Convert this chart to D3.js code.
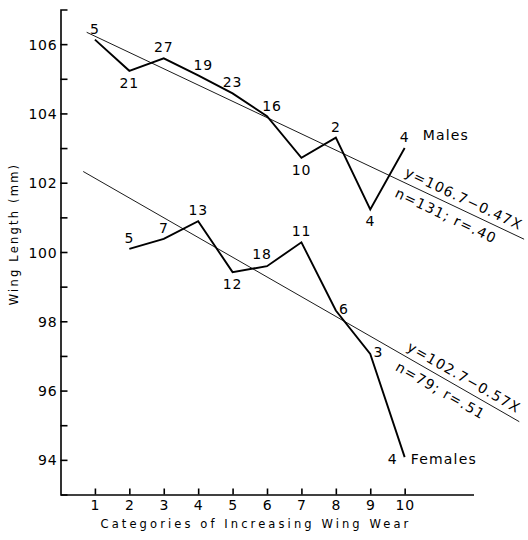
<!DOCTYPE html>
<html>
<head>
<meta charset="utf-8">
<script src="https://cdn.jsdelivr.net/npm/d3@7"></script>
<style>
    body { margin: 0; background: #fff; }
    text { font-family: "DejaVu Sans", sans-serif; fill: #000; }
</style>
</head>
<body>
<div id="chart"></div>
<script>
// Declare data.
const CATEGORIES = [1, 2, 3, 4, 5, 6, 7, 8, 9, 10];
const MALE_WING = [106.13, 105.23, 105.59, 105.1, 104.58, 103.92, 102.72, 103.3, 101.23, 103.0];
const MALE_N = [5, 21, 27, 19, 23, 16, 10, 2, 4, 4];
const MALE_POS = ['a', 'b', 'a', 'ar', 'a', 'ar', 'b', 'a', 'b', 'a'];
const FEMALE_CATEGORIES = [2, 3, 4, 5, 6, 7, 8, 9, 10];
const FEMALE_WING = [100.09, 100.38, 100.89, 99.42, 99.59, 100.28, 98.31, 97.06, 94.08];
const FEMALE_N = [5, 7, 13, 12, 18, 11, 6, 3, 4];
const FEMALE_POS = ['a', 'a', 'a', 'b', 'al', 'a', 'r', 'r', 'l'];
const MALE_FIT = {a: 106.7, b: -0.47, from: 0.76, to: 13.47, labelAt: 9.9};
const FEMALE_FIT = {a: 102.7, b: -0.57, from: 0.66, to: 13.33, labelAt: 9.95};
const MALE_EQ = ['y=106.7\u22120.47X', 'n=131; r=.40'];
const FEMALE_EQ = ['y=102.7\u22120.57X', 'n=79; r=.51'];
const Y_TICKS = [94, 95, 96, 97, 98, 99, 100, 101, 102, 103, 104, 105, 106];

const width = 528, height = 540;

// Label offsets for each placement code.
const OFFSETS = {
    a: [0, -11], b: [0, 12], ar: [5, -10], al: [-5, -12], r: [8, -2], l: [-12, 2]
};

const svg = d3.select('#chart').append('svg')
    .attr('width', width)
    .attr('height', height);

const xScale = d3.scaleLinear().domain([0, 12]).range([60.5, 473.5]);
const yScale = d3.scaleLinear().domain([93, 107]).range([494.5, 9.5]);

// Axes, ticks pointing inward.
const yAxis = d3.axisLeft(yScale)
    .tickValues(Y_TICKS)
    .tickSizeInner(-7)
    .tickSizeOuter(-7)
    .tickPadding(3)
    .tickFormat(d => d % 2 === 0 ? d : '');

const xAxis = d3.axisBottom(xScale)
    .tickValues(CATEGORIES)
    .tickSizeInner(-6)
    .tickSizeOuter(0)
    .tickPadding(6);

const yAxisG = svg.append('g')
    .attr('transform', `translate(${xScale(0)},0)`)
    .call(yAxis);

const xAxisG = svg.append('g')
    .attr('transform', `translate(0,${yScale(93)})`)
    .call(xAxis);

[yAxisG, xAxisG].forEach(g => {
    g.attr('font-family', null).attr('font-size', null);
    g.selectAll('path, line').attr('stroke', '#000').attr('stroke-width', 1.6);
    g.selectAll('text').style('font-size', '14px').style('letter-spacing', '0.8px');
});
yAxisG.selectAll('text').attr('dy', '0.36em');

// Axis titles.
svg.append('text')
    .attr('transform', 'translate(18,234) rotate(-90)')
    .attr('text-anchor', 'middle')
    .style('font-size', '11.5px')
    .style('letter-spacing', '2.2px')
    .text('Wing Length (mm)');

svg.append('text')
    .attr('x', 256)
    .attr('y', 528)
    .attr('text-anchor', 'middle')
    .style('font-size', '11.5px')
    .style('letter-spacing', '3.1px')
    .text('Categories of Increasing Wing Wear');

// Regression lines with equations laid along them.
const drawFit = (fit, eq) => {
    const f = x => fit.a + fit.b * x;
    svg.append('line')
        .attr('x1', xScale(fit.from)).attr('y1', yScale(f(fit.from)))
        .attr('x2', xScale(fit.to)).attr('y2', yScale(f(fit.to)))
        .attr('stroke', '#000')
        .attr('stroke-width', 0.9);

    const angle = Math.atan2(yScale(f(1)) - yScale(f(0)), xScale(1) - xScale(0)) * 180 / Math.PI;
    const g = svg.append('g')
        .attr('transform', `translate(${xScale(fit.labelAt)},${yScale(f(fit.labelAt))}) rotate(${angle})`);
    g.append('text')
        .attr('x', 0).attr('y', -6)
        .style('font-size', '14px')
        .style('letter-spacing', '1.2px')
        .text(eq[0]);
    g.append('text')
        .attr('x', 0).attr('y', 17)
        .style('font-size', '14px')
        .style('letter-spacing', '1.2px')
        .text(eq[1]);
};

drawFit(MALE_FIT, MALE_EQ);
drawFit(FEMALE_FIT, FEMALE_EQ);

// Mean wing length lines with sample sizes.
const drawSeries = (xs, ys, ns, pos) => {
    const pts = xs.map((x, i) => ({x, y: ys[i], n: ns[i], pos: pos[i]}));
    const line = d3.line().x(d => xScale(d.x)).y(d => yScale(d.y));
    svg.append('path')
        .datum(pts)
        .attr('d', line)
        .attr('fill', 'none')
        .attr('stroke', '#000')
        .attr('stroke-width', 1.9)
        .attr('stroke-linejoin', 'miter');

    svg.append('g').selectAll('text')
        .data(pts)
        .join('text')
        .attr('x', d => xScale(d.x) + OFFSETS[d.pos][0])
        .attr('y', d => yScale(d.y) + OFFSETS[d.pos][1])
        .attr('text-anchor', 'middle')
        .attr('dominant-baseline', 'central')
        .style('font-size', '14px')
        .style('letter-spacing', '0.8px')
        .text(d => d.n);
    return pts;
};

const males = drawSeries(CATEGORIES, MALE_WING, MALE_N, MALE_POS);
const females = drawSeries(FEMALE_CATEGORIES, FEMALE_WING, FEMALE_N, FEMALE_POS);

const lastMale = males[males.length - 1];
svg.append('text')
    .attr('x', xScale(lastMale.x) + 18)
    .attr('y', yScale(lastMale.y) - 8)
    .style('font-size', '14px')
    .style('letter-spacing', '1.2px')
    .text('Males');

const lastFemale = females[females.length - 1];
svg.append('text')
    .attr('x', xScale(lastFemale.x) + 6)
    .attr('y', yScale(lastFemale.y) + 7)
    .style('font-size', '14px')
    .style('letter-spacing', '1.2px')
    .text('Females');
</script>
</body>
</html>
